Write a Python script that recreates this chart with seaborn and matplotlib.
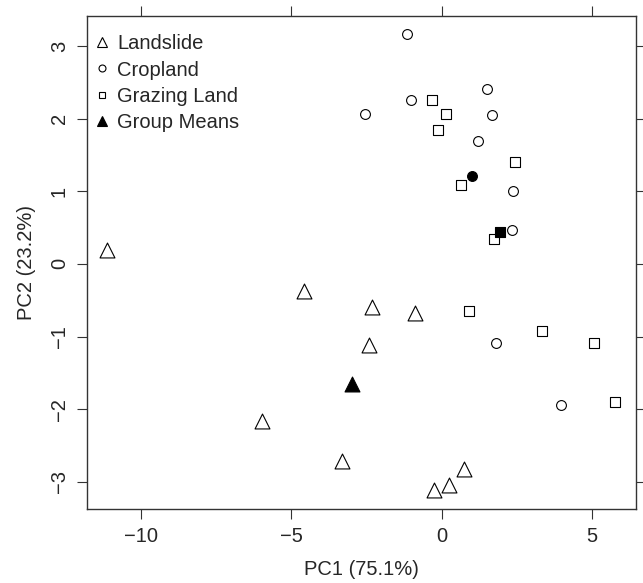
import numpy as np
import pandas as pd
import seaborn as sns
import matplotlib.pyplot as plt
from matplotlib.lines import Line2D

# PC scores
landslide_pc1 = [-11.14, -4.58, -2.33, -0.90, -2.41, -5.99, -3.33, 0.75, 0.24, -0.27]
landslide_pc2 = [0.19, -0.37, -0.59, -0.68, -1.11, -2.16, -2.71, -2.83, -3.05, -3.11]
cropland_pc1 = [-1.17, -1.03, -2.54, 1.52, 1.69, 1.22, 2.36, 2.34, 1.81, 3.97]
cropland_pc2 = [3.17, 2.26, 2.07, 2.41, 2.05, 1.69, 1.01, 0.46, -1.09, -1.94]
grazing_pc1 = [-0.33, 0.13, -0.11, 2.45, 0.63, 1.76, 0.91, 3.34, 5.08, 5.78]
grazing_pc2 = [2.26, 2.06, 1.85, 1.40, 1.08, 0.34, -0.65, -0.92, -1.09, -1.90]
mean_pc1 = [-2.99, 1.01, 1.95]
mean_pc2 = [-1.65, 1.21, 0.44]

groups = ["Landslide", "Cropland", "Grazing Land"]
markers = {"Landslide": "^", "Cropland": "o", "Grazing Land": "s"}
sizes = {"Landslide": 115, "Cropland": 50, "Grazing Land": 50}

df = pd.DataFrame({
    "PC1": landslide_pc1 + cropland_pc1 + grazing_pc1,
    "PC2": landslide_pc2 + cropland_pc2 + grazing_pc2,
    "group": ["Landslide"] * 10 + ["Cropland"] * 10 + ["Grazing Land"] * 10,
})
means = pd.DataFrame({"PC1": mean_pc1, "PC2": mean_pc2, "group": groups})

sns.set_style("ticks")
plt.rcParams['font.family'] = ['Liberation Sans', 'DejaVu Sans']
fs = 14.5

fig = plt.figure(figsize=(6.43, 5.83), dpi=100)
ax = fig.add_axes([0.1353, 0.1269, 0.8537, 0.8465])

for g in groups:
    sub = df[df.group == g]
    sns.scatterplot(x="PC1", y="PC2", data=sub, marker=markers[g], s=sizes[g],
                    facecolor="white", edgecolor="black", linewidth=0.8, ax=ax)
    m = means[means.group == g]
    sns.scatterplot(x="PC1", y="PC2", data=m, marker=markers[g], s=sizes[g],
                    color="black", edgecolor="black", linewidth=0.8, ax=ax)

ax.set_xlim(-11.81, 6.47)
ax.set_ylim(-3.375, 3.42)
ax.set_xticks([-10, -5, 0, 5])
ax.set_yticks([-3, -2, -1, 0, 1, 2, 3])
ax.set_xticklabels(["\u221210", "\u22125", "0", "5"])
ax.set_yticklabels(["\u22123", "\u22122", "\u22121", "0", "1", "2", "3"], rotation=90, va="center")
ax.tick_params(direction="out", length=7, width=0.8, color="#333333",
               top=True, right=True, labelsize=fs, pad=6)
for s in ax.spines.values():
    s.set_visible(True)
    s.set_linewidth(1.0)
    s.set_color("#333333")

ax.set_xlabel("PC1 (75.1%)", fontsize=fs, labelpad=10)
ax.set_ylabel("PC2 (23.2%)", fontsize=fs, labelpad=10)

handles = [
    Line2D([], [], marker="^", ls="", mfc="white", mec="black", ms=7, mew=0.8),
    Line2D([], [], marker="o", ls="", mfc="white", mec="black", ms=5, mew=0.8),
    Line2D([], [], marker="s", ls="", mfc="white", mec="black", ms=5, mew=0.8),
    Line2D([], [], marker="^", ls="", mfc="black", mec="black", ms=7, mew=0.8),
]
ax.legend(handles, ["Landslide", "Cropland", "Grazing Land", "Group Means"],
          loc="upper left", frameon=False, fontsize=fs, handlelength=0.6,
          handletextpad=0.45, labelspacing=0.36, borderaxespad=0.0,
          borderpad=0.0, bbox_to_anchor=(0.0165, 0.962))

fig.savefig("out.png", dpi=100)
